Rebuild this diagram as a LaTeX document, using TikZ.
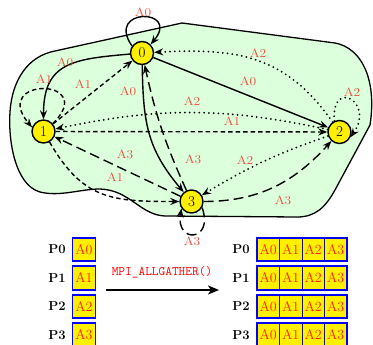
\documentclass[tikz,border=0pt]{standalone}
\usepackage{graphicx}
\usetikzlibrary{arrows.meta}
\definecolor{blobgreen}{RGB}{220,255,220}
\definecolor{lblred}{RGB}{235,75,55}
\definecolor{boxred}{RGB}{255,30,0}
\definecolor{yel}{RGB}{255,240,0}
\definecolor{navy}{RGB}{20,20,120}
\newcommand{\wlbl}[1]{\scalebox{1.12}[1]{#1}}
\begin{document}
\begin{tikzpicture}[x=1pt,y=1pt,
  proc/.style={circle,draw=black,line width=1.4pt,fill=yel,minimum size=23pt,inner sep=0pt,font=\fontsize{15}{16}\selectfont},
  lbl/.style={text=lblred,inner sep=0pt,font=\fontsize{12}{14}\selectfont},
  e/.style={line width=1.4pt,-{Stealth[length=9pt,width=7pt,inset=3pt]}},
  sdash/.style={dash pattern=on 4.5pt off 3pt},
  ldash/.style={dash pattern=on 10pt off 5pt},
  dotline/.style={dash pattern=on 0pt off 4.8pt,line cap=round,line width=2pt},
  cell/.style={rectangle,draw=navy,line width=0.6pt,fill=yel,minimum width=22.5pt,minimum height=23pt,inner sep=0pt,text=boxred,font=\fontsize{14}{15}\selectfont},
  ptxt/.style={inner sep=0pt,font=\fontsize{13}{15}\selectfont\bfseries},
  frame/.style={draw=blue,line width=1.8pt}
]
\useasboundingbox (0,0) rectangle (373,-345);
% green region
\filldraw[fill=blobgreen,draw=black,line width=1.3pt]
  (10,-112) .. controls (12,-80) and (28,-56) .. (55,-51) -- (182,-23) -- (335,-43)
  .. controls (362,-48) and (377,-80) .. (370,-125) -- (335,-190)
  .. controls (325,-208) and (315,-217) .. (297,-217) -- (165,-216)
  .. controls (140,-215) and (130,-190) .. (100,-189)
  .. controls (80,-189) and (60,-197) .. (40,-192)
  .. controls (15,-185) and (8,-140) .. (10,-112) -- cycle;
% processes
\node[proc] (n0) at (142,-53) {0};
\node[proc] (n1) at (43.5,-131.5) {1};
\node[proc] (n2) at (339.5,-132) {2};
\node[proc] (n3) at (191.5,-201.5) {3};
% edges
\draw[e] (n0.145) to[out=125,in=50,looseness=6.5] (n0.45);
\draw[e] (n0) to[out=185,in=90,looseness=1.35] (n1);
\draw[e,sdash] (n1) -- (n0);
\draw[e] (n0) to[out=271,in=130,looseness=1.1] (n3);
\draw[e,ldash] (n3) to[bend left=6] (n0);
\draw[e] (n0) -- (n2);
\draw[e,dotline] (n2) to[out=125,in=3,looseness=1.1] (n0);
\draw[e,sdash] (n1.40) to[out=45,in=130,looseness=8] (n1.160);
\draw[e,sdash] (n1) -- (n2);
\draw[e,dotline] (n2) to[bend right=12] (n1);
\draw[e,sdash] (n1) to[out=-60,in=180,looseness=1.2] (n3);
\draw[e,ldash] (n3) -- (n1);
\draw[e,dotline] (n2) to[bend right=6] (n3);
\draw[e,ldash] (n3) to[out=0,in=228] (n2);
\draw[e,dotline] (n2.115) to[out=95,in=55,looseness=4.8] (n2.-25);
\draw[e,ldash] (n3.-30) to[out=-70,in=-100,looseness=4.5] (n3.-145);
% edge labels
\node[lbl] (t00) at (143,-12) {\wlbl{A0}};
\node[lbl] (t01) at (65,-62) {\wlbl{A0}};
\node[lbl] (t10) at (83,-84) {\wlbl{A1}};
\node[lbl] (t11) at (44,-79) {\wlbl{A1}};
\node[lbl] (t03) at (128,-91) {\wlbl{A0}};
\node[lbl] (t21) at (192,-101) {\wlbl{A2}};
\node[lbl] (t12) at (232,-121) {\wlbl{A1}};
\node[lbl] (t02) at (248,-81) {\wlbl{A0}};
\node[lbl] (t20) at (258,-53) {\wlbl{A2}};
\node[lbl] (t22) at (352,-92) {\wlbl{A2}};
\node[lbl] (t31) at (125,-154) {\wlbl{A3}};
\node[lbl] (t13) at (115,-177) {\wlbl{A1}};
\node[lbl] (t30) at (193,-159) {\wlbl{A3}};
\node[lbl] (t23) at (245,-160) {\wlbl{A2}};
\node[lbl] (t32) at (283,-200) {\wlbl{A3}};
\node[lbl] (t33) at (192,-241) {\wlbl{A3}};
% bottom: before / after
\foreach \i/\y in {0/249.5,1/278,2/306.5,3/335}{
  \node[ptxt] (pl\i) at (57,-\y) {P\i};
  \node[cell] (a\i) at (84,-\y) {A\i};
  \draw[frame] (a\i.north west) rectangle (a\i.south east);
  \node[ptxt] (pr\i) at (241,-\y) {P\i};
  \foreach \j in {0,...,3}{
    \node[cell] (c\i\j) at ({268.25+22.5*\j},-\y) {A\j};
  }
  \draw[frame] (c\i0.north west) rectangle (c\i3.south east);
}
\coordinate (as) at (106,-290);
\coordinate (ae) at (219,-290);
\draw[line width=1.9pt,-{Stealth[length=11pt,width=9pt,inset=3pt]}] (as) -- (ae);
\node[text=red,inner sep=0pt,font=\fontsize{13}{14}\ttfamily] (mpi) at (162,-272) {MPI\_ALLGATHER()};
\end{tikzpicture}
\end{document}
